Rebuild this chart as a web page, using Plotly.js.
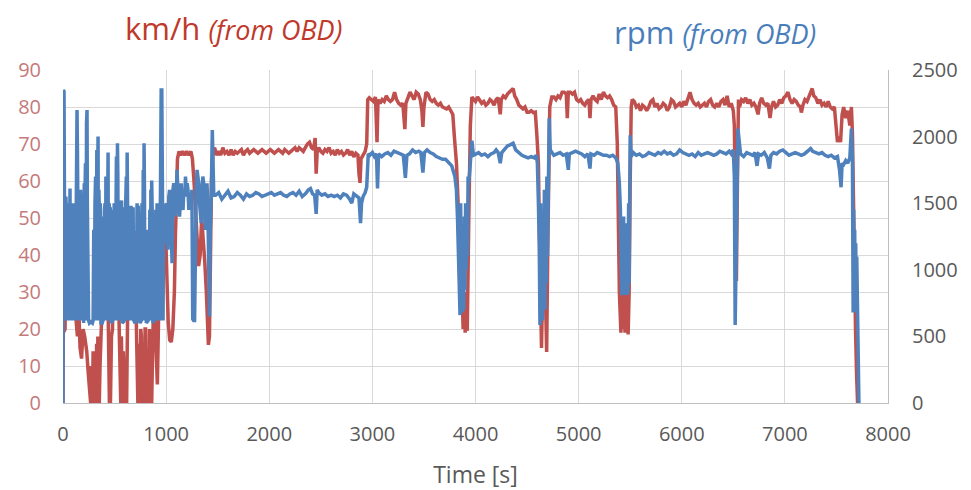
<!DOCTYPE html>
<html>
<head>
<meta charset="utf-8">
<script src="https://cdn.plot.ly/plotly-3.0.1.min.js"></script>
<style>html,body{margin:0;padding:0;background:#fff}#chart{width:971px;height:490px}</style>
</head>
<body>
<div id="chart"></div>
<script>
// Vehicle speed (km/h, from OBD)
const speedTime = [0,3,20,25,40,55,70,85,95,110,125,140,155,165,180,195,210,230,245,262,268,274,280,286,292,298,305,312,320,326,332,338,346,352,359,370,385,400,415,430,440,450,460,470,480,490,510,530,545,553,560,566,572,578,585,592,600,608,617,625,640,660,680,700,712,718,726,732,740,748,754,760,766,770,776,782,790,796,800,806,810,818,824,830,838,844,850,856,860,870,880,895,905,915,925,940,960,980,995,1005,1020,1035,1050,1065,1080,1090,1100,1110,1125,1140,1160,1180,1200,1220,1240,1255,1270,1285,1300,1315,1330,1345,1360,1375,1390,1400,1410,1420,1430,1440,1455,1470,1490,1510,1530,1550,1570,1590,1610,1630,1650,1670,1690,1710,1730,1750,1770,1790,1810,1830,1850,1870,1890,1910,1930,1950,1970,1990,2010,2030,2050,2070,2090,2110,2130,2150,2170,2190,2210,2230,2250,2270,2290,2310,2330,2350,2370,2390,2410,2430,2445,2455,2465,2480,2500,2520,2540,2560,2580,2600,2620,2640,2660,2680,2700,2720,2740,2760,2780,2800,2820,2840,2860,2870,2880,2890,2910,2930,2945,2955,2970,2990,3010,3030,3045,3055,3075,3095,3115,3135,3155,3175,3195,3215,3235,3255,3275,3295,3315,3325,3345,3365,3385,3405,3425,3445,3465,3480,3490,3500,3520,3540,3560,3580,3600,3620,3640,3660,3680,3700,3720,3740,3760,3780,3795,3805,3815,3830,3845,3860,3870,3880,3890,3900,3910,3920,3935,3950,3965,3985,4000,4020,4040,4060,4080,4100,4120,4140,4160,4180,4200,4220,4240,4250,4270,4290,4310,4330,4350,4365,4380,4400,4420,4440,4460,4480,4500,4520,4540,4560,4580,4595,4610,4620,4630,4640,4650,4660,4670,4680,4690,4700,4710,4720,4740,4760,4780,4800,4820,4840,4860,4880,4890,4900,4920,4940,4960,4980,5000,5020,5040,5060,5080,5100,5110,5120,5140,5160,5180,5200,5220,5240,5260,5280,5300,5320,5340,5360,5375,5385,5395,5410,5420,5430,5440,5450,5458,5465,5472,5480,5490,5500,5510,5520,5540,5560,5580,5600,5620,5640,5660,5680,5700,5720,5740,5760,5780,5800,5820,5840,5860,5880,5900,5920,5940,5960,5980,6000,6020,6040,6060,6080,6100,6120,6140,6160,6180,6200,6220,6240,6260,6280,6300,6320,6340,6360,6380,6400,6420,6440,6460,6480,6500,6510,6520,6530,6540,6550,6560,6580,6600,6620,6640,6660,6680,6700,6720,6740,6755,6775,6795,6815,6835,6856,6870,6890,6910,6930,6950,6970,6990,7010,7030,7050,7070,7090,7110,7130,7150,7160,7175,7195,7215,7235,7250,7265,7280,7300,7320,7340,7360,7380,7400,7420,7440,7460,7480,7495,7510,7525,7540,7555,7570,7590,7610,7630,7645,7655,7665,7675,7685,7695,7705];
const speedKmh = [0,19,20,36,35,32,30,25,33,28,22,18,24,15,12,20,18,14,8,0,0,10,0,0,14,0,12,0,0,16,0,18,0,0,10,20,35,44,46,46,20,0,0,18,20,46,46,46,20,0,0,18,0,0,14,0,0,12,0,20,46,46,46,46,20,0,0,16,0,0,20,18,0,0,12,0,0,20,20,0,0,10,0,0,20,0,0,8,0,16,30,20,10,5,20,46,47,46,46,35,22,17,16.5,20,30,45,58,66,68,67,68,67,68,67,68,66,60,50,45,37,40,50,45,38,30,22,15.7,18,40,60,68,69,67,68,67,69,67.5,68,67,68.5,67,68,67.5,68,68.5,67,68,68.5,67.5,68,68.5,68,67.5,68,68.5,68,67.5,68,68.5,68,67.5,68,68.5,68,67.5,68.5,68,67.5,68,68.5,69,68,69,68.5,68,69,70,70.5,69,68.5,71.6,62,68,69,68,67.5,68.5,68,69,67.5,68,67,68.5,67.5,68,67,67.5,68.5,67,68,66.5,67.5,67,62,59.5,66,67,68,70,82,82.5,82,81.5,82.7,70.5,82,81,82,81.5,83,82,81.5,82,84,82,81,80.5,81,74,81,82.5,84,83,82,84,83.5,82,79,74.6,80,84,83.5,82,81.5,82,81,80.5,81,80,79.7,79.5,80,79,78,72,69,65,55,40,25,30,20,28,19,30,19.5,50,75,82.7,82,81.5,82.7,82,81,81.5,80.5,81,82,81.5,80.5,82,82.5,78,82,83,82.5,83.5,84,84.5,85,83,82,80.5,80,79.5,80,78.6,78.6,79,78.5,78.6,72.4,65,45,30,14.9,30,25,40,20,13.8,40,70,80,82.7,82.7,82,83,82.5,84,84,83.5,77,84,84,83.5,84,82,81.5,82,81,80.5,81.5,82,77,82,83,82,81.5,83.5,82,84,83,82.5,83,82,80.5,80,70,50,30,19,30,20,30,19,28,19,30,18.5,30,60,80,82,81.5,80,80.5,79,80.5,80,79,80,81.5,82,80,81,79.5,80,81,80.5,79,80,82,81.5,80,80.5,81,80,81.5,80.5,82,84,82,81,80.5,81,80,80.5,81,80,81.5,82,80.5,80,81,80,81.5,82,80.5,83,80,81,79,75,50,33,60,82,80,82,81.5,82.5,81,82,80.5,81,80,78,81,82.5,81,80.5,81,77,80,81.5,80,80.5,82,81,82.5,83,84,82,81,82,81.5,80.5,80,78.5,80.5,82,81.5,83,84,85,83,82.5,81,82,80.5,81,80,81.5,80,79.5,80,75,70.5,72,70.5,78,80,77,79,75,80,73,50,35,20,8,0];

// Engine speed (rpm, from OBD)
const rpmTime = [0,4,10,14,20,24,28,32,36,40,44,48,52,56,60,64,68,72,76,80,86,92,98,104,108,114,120,126,132,136,140,144,148,152,158,164,170,176,180,186,190,196,200,206,212,218,224,228,233,236,240,244,248,256,270,285,292,298,304,310,316,322,328,334,340,344,348,352,356,362,368,380,388,392,396,402,408,412,416,422,426,432,437,441,446,450,454,458,464,476,482,486,490,496,502,506,512,518,522,528,532,536,540,546,552,558,564,568,574,588,594,598,602,608,614,618,622,626,630,636,642,648,654,660,666,672,680,686,700,712,718,724,730,736,740,748,760,766,772,778,782,786,790,794,800,808,820,826,832,836,842,848,852,856,860,866,872,884,890,894,900,906,912,918,924,930,936,942,948,952,958,962,966,970,976,982,986,996,1004,1012,1018,1026,1034,1042,1050,1058,1066,1074,1082,1090,1098,1106,1114,1122,1130,1138,1146,1154,1164,1172,1180,1188,1196,1204,1212,1220,1230,1240,1250,1258,1266,1276,1284,1292,1300,1308,1316,1324,1332,1340,1348,1356,1364,1372,1380,1388,1396,1404,1412,1420,1428,1436,1448,1454,1462,1480,1510,1540,1570,1600,1630,1660,1690,1720,1750,1780,1810,1840,1870,1900,1930,1960,1990,2020,2050,2080,2110,2140,2170,2200,2230,2260,2290,2320,2350,2380,2400,2420,2440,2455,2465,2480,2510,2540,2570,2600,2630,2660,2690,2720,2750,2780,2800,2820,2850,2870,2885,2895,2910,2930,2945,2960,2975,3000,3020,3040,3050,3060,3090,3120,3150,3180,3210,3240,3270,3300,3320,3335,3360,3390,3420,3450,3470,3490,3505,3530,3560,3590,3620,3650,3680,3710,3740,3770,3800,3815,3825,3835,3842,3850,3856,3862,3868,3874,3880,3886,3892,3898,3904,3910,3916,3922,3928,3935,3950,3965,3980,4000,4030,4060,4090,4120,4150,4180,4200,4220,4240,4255,4280,4310,4340,4365,4390,4420,4450,4480,4510,4540,4570,4590,4600,4610,4618,4625,4632,4638,4644,4650,4656,4662,4668,4674,4680,4686,4692,4698,4705,4715,4725,4740,4760,4790,4820,4850,4880,4900,4910,4940,4970,5000,5030,5060,5090,5110,5120,5150,5180,5210,5240,5270,5300,5330,5360,5380,5395,5405,5412,5418,5424,5430,5436,5442,5448,5454,5460,5466,5472,5478,5485,5490,5495,5500,5510,5530,5560,5590,5620,5650,5680,5710,5740,5770,5800,5830,5860,5890,5920,5950,5980,6010,6040,6070,6100,6130,6160,6190,6220,6250,6280,6310,6340,6370,6400,6430,6460,6480,6500,6510,6518,6526,6535,6545,6570,6600,6630,6660,6690,6710,6730,6745,6770,6800,6830,6850,6865,6890,6920,6950,6980,7010,7040,7070,7100,7130,7160,7190,7220,7250,7270,7300,7330,7360,7390,7420,7450,7480,7510,7530,7545,7555,7570,7590,7610,7630,7645,7655,7662,7667,7672,7677,7682,7687,7692,7697,7702,7706,7710,7714,7718];
const rpmValues = [0,2350,2340,1560,1500,700,1550,1450,620,1500,1400,620,1500,1350,620,1520,1610,700,1350,620,1400,620,1500,1450,620,1300,620,1600,1700,2200,1900,620,1500,620,1550,620,1600,1450,620,1500,620,1450,600,1650,1500,1800,620,2100,2200,1500,620,1400,620,600,610,600,620,1300,620,1500,1700,620,1900,1500,2000,620,1600,1450,620,1500,600,600,620,1400,620,1450,1500,620,1700,1500,620,1850,1880,620,1500,1470,620,1470,600,610,620,1450,620,1500,1420,620,1700,1850,620,1950,1700,620,1480,1470,620,1480,1500,1520,600,610,620,1470,620,1500,1700,620,1880,1500,620,1470,1480,620,1460,1480,620,1470,1470,620,600,620,1500,620,1480,1200,620,600,620,1500,620,1750,620,1950,1600,620,1300,600,610,620,1300,620,1450,620,1600,620,1670,1400,600,620,1300,620,1450,620,1500,620,1470,1500,620,1700,2100,2350,2350,2100,1400,620,1480,1200,1450,1480,1500,1350,1150,1550,1600,1450,1250,1050,1600,1650,1550,1400,1550,1750,1600,1500,1400,1500,1650,1500,1450,1600,1550,1700,1550,1650,1600,1450,1550,1500,1600,630,620,620,1500,1600,1750,1700,1650,1500,1400,1350,1600,1700,1650,1500,1300,1550,1650,1500,660,650,1300,1500,2050,1700,1560,1560,1580,1530,1560,1590,1540,1550,1580,1560,1530,1570,1550,1560,1580,1570,1550,1560,1570,1580,1560,1570,1580,1560,1550,1570,1580,1560,1590,1550,1570,1600,1610,1570,1560,1420,1600,1580,1560,1570,1550,1560,1550,1560,1540,1570,1560,1530,1500,1570,1550,1540,1350,1500,1550,1580,1620,1870,1860,1880,1850,1870,1610,1870,1850,1870,1880,1860,1890,1880,1870,1860,1690,1860,1870,1900,1880,1890,1880,1730,1880,1900,1880,1870,1850,1840,1830,1830,1800,1780,1700,1600,1400,1100,700,660,1500,800,1300,680,1100,700,1400,850,1500,1000,1450,1100,1700,1650,1800,1970,1860,1870,1880,1860,1870,1850,1870,1880,1900,1880,1800,1880,1900,1930,1940,1950,1900,1880,1860,1850,1840,1850,1840,1860,1800,1500,1200,585,1500,700,1400,620,1300,800,1600,700,1400,900,1700,1100,1850,2140,1900,1880,1860,1870,1880,1860,1870,1750,1870,1880,1890,1880,1870,1850,1870,1760,1870,1860,1880,1870,1860,1860,1850,1860,1840,1800,1650,1450,1100,810,1300,820,1400,810,1200,850,1350,810,1250,820,1500,900,1500,2010,1850,1880,1860,1870,1850,1860,1880,1870,1860,1880,1870,1890,1870,1880,1860,1870,1900,1880,1870,1860,1870,1850,1880,1860,1870,1880,1870,1860,1870,1890,1880,1870,1890,1870,1900,1700,585,1200,1900,2060,1870,1850,1880,1870,1860,1880,1780,1870,1860,1880,1840,1760,1860,1880,1870,1890,1900,1880,1860,1870,1880,1870,1860,1870,1890,1910,1890,1880,1870,1880,1860,1850,1860,1840,1850,1750,1620,1800,1790,1820,1800,1840,2060,1850,680,1450,700,1300,720,1200,680,1100,760,800,400,150,0];

const xTicks = [0,1000,2000,3000,4000,5000,6000,7000,8000];
const kmhTicks = [0,10,20,30,40,50,60,70,80,90];
const rpmTicks = [0,500,1000,1500,2000,2500];

const RED = '#c0504d';
const BLUE = '#4f81bd';
const FONT = 'Open Sans, sans-serif';

const traces = [
  {x: speedTime, y: speedKmh, type: 'scatter', mode: 'lines', yaxis: 'y',
   line: {color: RED, width: 3.5}, name: 'km/h', hoverinfo: 'skip'},
  {x: rpmTime, y: rpmValues, type: 'scatter', mode: 'lines', yaxis: 'y2',
   line: {color: BLUE, width: 3.5}, name: 'rpm', hoverinfo: 'skip'}
];

const layout = {
  width: 971, height: 490,
  margin: {l: 63, r: 83, t: 70, b: 87},
  paper_bgcolor: '#ffffff', plot_bgcolor: '#ffffff',
  showlegend: false,
  font: {family: FONT, color: '#595959'},
  xaxis: {
    range: [0, 8000], tickvals: xTicks, ticktext: xTicks.map(String),
    showgrid: true, gridcolor: '#d9d9d9', gridwidth: 1,
    zeroline: false, showline: true, linecolor: '#bfbfbf', linewidth: 1,
    ticks: '', ticklabelstandoff: 13,
    tickfont: {family: FONT, size: 20, color: '#595959'},
    title: {text: 'Time [s]', font: {family: FONT, size: 23, color: '#595959'}, standoff: 22}
  },
  yaxis: {
    range: [0, 90], tickvals: kmhTicks, ticktext: kmhTicks.map(String),
    showgrid: true, gridcolor: '#d9d9d9', gridwidth: 1,
    zeroline: false, showline: false, ticks: '', ticklabelstandoff: 21,
    tickfont: {family: FONT, size: 20, color: '#c47a7a'}
  },
  // rpm axis: labels pushed out with an invisible long tick
  yaxis2: {
    range: [0, 2500], tickvals: rpmTicks, ticktext: rpmTicks.map(String),
    overlaying: 'y', side: 'right', showgrid: false, zeroline: false,
    showline: true, linecolor: '#bfbfbf', linewidth: 1,
    ticks: 'outside', ticklen: 19, tickcolor: 'rgba(0,0,0,0)',
    tickfont: {family: FONT, size: 20, color: '#595959'}
  },
  // visible short tick marks on the rpm axis
  yaxis3: {
    range: [0, 2500], tickvals: rpmTicks, overlaying: 'y', side: 'right',
    showgrid: false, zeroline: false, showline: false, showticklabels: false,
    ticks: 'outside', ticklen: 8, tickcolor: '#bfbfbf', tickwidth: 1
  },
  annotations: [
    {xref: 'paper', yref: 'paper', x: 0.0727, y: 1.125, xanchor: 'left', yanchor: 'middle', showarrow: false,
     text: 'km/h <i><span style="font-size:27px">(from OBD)</span></i>',
     font: {family: FONT, size: 31, color: '#c0392b'}},
    {xref: 'paper', yref: 'paper', x: 0.665, y: 1.115, xanchor: 'left', yanchor: 'middle', showarrow: false,
     text: 'rpm <i><span style="font-size:27px">(from OBD)</span></i>',
     font: {family: FONT, size: 31, color: '#4a7ebb'}}
  ]
};

Plotly.newPlot('chart', traces, layout, {staticPlot: true, displayModeBar: false});
</script>
</body>
</html>
